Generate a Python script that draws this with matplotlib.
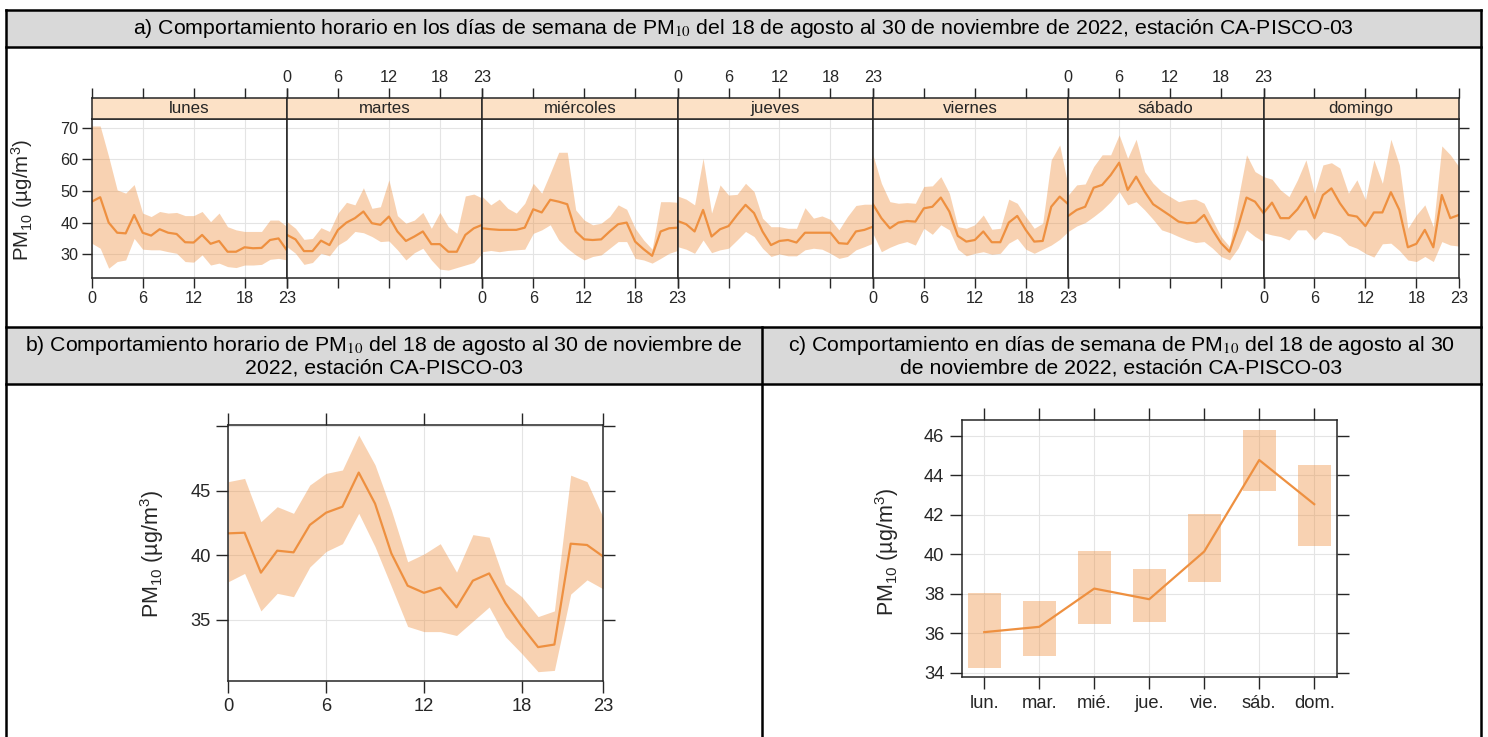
import matplotlib
matplotlib.use('Agg')
import matplotlib.pyplot as plt
from matplotlib.patches import Rectangle
from matplotlib.lines import Line2D

plt.rcParams['font.family'] = ['Liberation Sans', 'DejaVu Sans']
plt.rcParams['mathtext.fontset'] = 'custom'
plt.rcParams['mathtext.rm'] = 'Liberation Sans'
plt.rcParams['mathtext.it'] = 'Liberation Sans:italic'
plt.rcParams['mathtext.bf'] = 'Liberation Sans:bold'

# ---------------- data ----------------
hours = list(range(24))
days = ['lunes', 'martes', 'miércoles', 'jueves', 'viernes', 'sábado', 'domingo']

mean_lunes = [46.6, 48.0, 40.0, 36.8, 36.6, 42.4, 36.8, 35.9, 37.9, 36.8, 36.4, 33.8, 33.7, 36.1, 33.3, 34.2, 30.8, 30.8, 32.2, 31.9, 32.0, 34.5, 35.0, 31.2]
low_lunes = [33.5, 31.9, 25.6, 27.7, 28.2, 35.0, 31.6, 31.4, 31.4, 30.8, 30.3, 27.7, 27.5, 29.8, 26.6, 27.2, 26.1, 25.8, 26.6, 26.6, 26.8, 28.4, 28.7, 28.2]
high_lunes = [70.5, 70.5, 60.8, 50.3, 49.3, 52.0, 43.0, 41.9, 43.5, 43.0, 43.2, 42.2, 42.2, 43.5, 40.3, 43.0, 38.7, 37.7, 37.2, 37.2, 37.2, 40.8, 40.8, 38.7]

mean_martes = [36.1, 34.7, 31.0, 31.0, 34.3, 32.9, 37.7, 40.0, 41.4, 43.5, 39.8, 39.3, 41.9, 37.2, 34.2, 35.6, 37.2, 33.2, 33.2, 30.8, 30.8, 36.1, 38.2, 39.3]
low_martes = [32.4, 30.3, 26.8, 27.4, 30.3, 29.5, 32.9, 34.5, 37.2, 36.8, 35.6, 34.0, 34.2, 31.4, 28.2, 30.5, 31.9, 28.2, 25.3, 25.0, 25.8, 26.6, 27.4, 30.3]
high_martes = [40.3, 38.2, 34.7, 35.0, 38.4, 37.2, 43.0, 46.4, 45.6, 51.0, 44.5, 45.0, 53.5, 42.2, 39.8, 40.8, 43.2, 38.2, 43.2, 38.7, 36.6, 48.4, 49.0, 47.7]

mean_miercoles = [38.2, 37.9, 37.7, 37.7, 37.7, 38.4, 44.2, 43.2, 47.2, 46.6, 45.8, 37.2, 34.7, 34.5, 34.7, 37.2, 39.5, 40.0, 34.0, 31.6, 29.5, 37.2, 38.2, 38.4]
low_miercoles = [30.8, 31.2, 30.8, 31.2, 31.4, 31.6, 36.6, 37.7, 39.3, 34.5, 31.9, 29.8, 28.2, 29.3, 29.8, 31.9, 34.0, 34.0, 28.7, 28.2, 27.2, 28.7, 30.3, 31.2]
high_miercoles = [48.2, 45.6, 47.4, 44.5, 43.0, 46.1, 52.4, 49.3, 55.6, 62.2, 62.2, 44.0, 40.8, 39.3, 39.8, 41.9, 45.6, 44.2, 38.2, 34.5, 31.6, 46.6, 46.6, 46.4]

mean_jueves = [40.5, 39.5, 37.2, 44.0, 35.6, 37.9, 38.9, 42.4, 45.6, 43.0, 37.2, 32.9, 34.2, 34.5, 33.7, 36.8, 36.8, 36.8, 36.8, 33.5, 33.3, 37.2, 37.7, 38.7]
low_jueves = [32.4, 31.6, 30.3, 34.5, 30.5, 31.4, 31.9, 34.5, 37.2, 35.6, 31.9, 29.3, 30.1, 29.5, 29.5, 31.4, 31.9, 31.6, 30.3, 28.7, 29.3, 31.4, 32.4, 33.5]
high_jueves = [48.4, 47.4, 45.6, 60.3, 43.0, 51.9, 48.7, 48.9, 52.4, 49.8, 41.4, 38.7, 38.7, 38.2, 38.2, 44.7, 41.4, 42.1, 41.0, 37.7, 41.9, 45.4, 45.8, 45.8]

mean_viernes = [45.8, 41.4, 38.2, 40.0, 40.5, 40.3, 44.5, 45.0, 47.9, 43.5, 35.8, 34.0, 34.5, 37.2, 33.8, 33.8, 40.0, 42.1, 37.7, 34.0, 34.2, 45.0, 48.2, 45.8]
low_viernes = [36.6, 30.8, 32.2, 33.3, 34.0, 32.9, 38.2, 36.3, 39.3, 37.7, 31.6, 29.5, 30.3, 30.8, 30.0, 30.3, 33.5, 35.0, 31.6, 30.3, 31.6, 32.9, 34.7, 37.2]
high_viernes = [61.4, 52.4, 46.6, 46.1, 46.3, 46.1, 51.4, 51.6, 54.5, 49.3, 38.7, 38.2, 39.3, 42.4, 37.9, 38.2, 47.4, 46.1, 41.9, 38.2, 39.8, 59.8, 64.5, 51.4]

mean_sabado = [42.1, 44.0, 45.0, 51.0, 51.9, 55.0, 58.9, 50.3, 54.5, 49.8, 45.8, 44.0, 42.2, 40.3, 39.8, 40.0, 42.4, 37.7, 33.5, 30.8, 38.7, 47.9, 46.6, 43.0]
low_sabado = [37.2, 38.9, 40.0, 41.9, 44.0, 46.6, 49.8, 45.6, 46.6, 44.0, 41.0, 37.7, 36.8, 35.6, 34.5, 33.7, 34.0, 31.9, 29.3, 28.2, 31.9, 37.7, 35.6, 34.0]
high_sabado = [48.7, 51.9, 52.2, 57.7, 61.4, 61.4, 67.7, 60.3, 66.3, 56.1, 52.4, 49.8, 48.2, 46.6, 47.2, 47.4, 46.1, 40.8, 35.6, 32.4, 47.2, 61.4, 56.1, 54.5]

mean_domingo = [43.0, 46.3, 41.4, 41.4, 44.2, 48.2, 41.4, 48.7, 50.8, 46.1, 42.4, 41.9, 38.9, 43.2, 43.2, 49.6, 44.0, 32.2, 33.3, 37.7, 32.2, 48.7, 41.4, 42.4]
low_domingo = [36.8, 36.1, 35.6, 34.5, 37.7, 37.7, 34.5, 37.2, 36.6, 35.6, 32.9, 31.9, 30.3, 29.1, 33.3, 33.5, 31.2, 28.2, 27.7, 29.3, 27.7, 34.0, 32.9, 32.6]
high_domingo = [54.5, 53.7, 50.3, 48.2, 53.5, 59.8, 49.3, 58.2, 58.9, 57.2, 49.3, 53.5, 47.2, 59.8, 52.4, 66.3, 58.2, 38.2, 42.4, 45.6, 38.7, 64.2, 61.4, 57.7]

# panel b: hourly
hour_mean = [41.7, 41.75, 38.66, 40.36, 40.23, 42.35, 43.3, 43.76, 46.4, 44.0, 40.15, 37.65, 37.1, 37.5, 35.98, 38.04, 38.6, 36.3, 34.5, 32.9, 33.1, 40.9, 40.8, 39.9]
hour_low = [37.96, 38.6, 35.7, 37.06, 36.8, 39.1, 40.3, 40.9, 43.25, 40.67, 37.6, 34.5, 34.1, 34.1, 33.8, 34.9, 36.0, 33.7, 32.4, 31.0, 31.1, 37.0, 38.1, 37.4]
hour_high = [45.7, 45.95, 42.6, 43.76, 43.25, 45.44, 46.34, 46.6, 49.3, 47.0, 43.5, 39.5, 40.1, 40.9, 38.7, 41.6, 41.4, 37.8, 36.8, 35.26, 35.7, 46.2, 45.7, 42.9]

# panel c: weekday
wd_labels = ['lun.', 'mar.', 'mié.', 'jue.', 'vie.', 'sáb.', 'dom.']
wd_mean = [36.05, 36.32, 38.26, 37.72, 40.14, 44.78, 42.54]
wd_low = [34.25, 34.86, 36.47, 36.58, 38.58, 43.21, 40.42]
wd_high = [38.02, 37.65, 40.17, 39.26, 42.05, 46.3, 44.53]

# ---------------- style ----------------
LINE = '#EE9040'
BAND_ALPHA = 0.4
STRIP = '#FCE1C6'
FRAME = '#262626'
GRID = '#E4E4E4'
TXT = '#262626'
HEAD = '#D9D9D9'

W, H = 1488, 737
fig = plt.figure(figsize=(W / 100, H / 100), dpi=100)


def fbox(x0, y0, x1, y1):
    return [x0 / W, 1 - y1 / H, (x1 - x0) / W, (y1 - y0) / H]


def fx(x):
    return x / W


def fy(y):
    return 1 - y / H


# ---------------- table ----------------
for (x0, y0, x1, y1) in [(6, 10, 1481, 47), (6, 327, 1481, 384)]:
    fig.add_artist(Rectangle((fx(x0), fy(y1)), (x1 - x0) / W, (y1 - y0) / H,
                             transform=fig.transFigure, facecolor=HEAD,
                             edgecolor='none', zorder=0))
hlines = [(10, 6, 1481), (47, 6, 1481), (327, 6, 1481), (384, 6, 1481)]
vlines = [(6, 10, 737), (1481, 10, 737), (762, 327, 737)]
for y, x0, x1 in hlines:
    fig.add_artist(Line2D([fx(x0), fx(x1)], [fy(y), fy(y)], transform=fig.transFigure,
                          color='black', lw=1.8, zorder=5))
for x, y0, y1 in vlines:
    fig.add_artist(Line2D([fx(x), fx(x)], [fy(y0), fy(y1)], transform=fig.transFigure,
                          color='black', lw=1.8, zorder=5))

HFS = 15.3
fig.text(fx(743.5), fy(28.5),
         'a) Comportamiento horario en los días de semana de PM$_{10}$ del 18 de agosto al 30 de noviembre de 2022, estación CA-PISCO-03',
         ha='center', va='center', fontsize=HFS, math_fontfamily='stix')
fig.text(fx(384), fy(356),
         'b) Comportamiento horario de PM$_{10}$ del 18 de agosto al 30 de noviembre de\n2022, estación CA-PISCO-03',
         ha='center', va='center', fontsize=HFS, math_fontfamily='stix', linespacing=1.12)
fig.text(fx(1121.5), fy(356),
         'c) Comportamiento en días de semana de PM$_{10}$ del 18 de agosto al 30\nde noviembre de 2022, estación CA-PISCO-03',
         ha='center', va='center', fontsize=HFS, math_fontfamily='stix', linespacing=1.12)

YLAB = 'PM$_{10}$ (µg/m$^{3}$)'


def style_spines(ax):
    for s in ax.spines.values():
        s.set_color(FRAME)
        s.set_linewidth(1.1)


# ---------------- panel a ----------------
day_means = [mean_lunes, mean_martes, mean_miercoles, mean_jueves, mean_viernes, mean_sabado, mean_domingo]
day_lows = [low_lunes, low_martes, low_miercoles, low_jueves, low_viernes, low_sabado, low_domingo]
day_highs = [high_lunes, high_martes, high_miercoles, high_jueves, high_viernes, high_sabado, high_domingo]

xa0, dw = 91.7, 195.3
ya0, ya1 = 119.0, 277.7
ys0 = 98.3
hticks = [0, 6, 12, 18, 23]
AFS = 11.7
for i, name in enumerate(days):
    x0 = xa0 + i * dw
    x1 = x0 + dw
    ax = fig.add_axes(fbox(x0, ya0, x1, ya1))
    ax.fill_between(hours, day_lows[i], day_highs[i], color=LINE, alpha=BAND_ALPHA, lw=0)
    ax.plot(hours, day_means[i], color=LINE, lw=1.6)
    ax.set_xlim(0, 23)
    ax.set_ylim(22.6, 72.7)
    ax.set_xticks(hticks)
    ax.set_yticks([30, 40, 50, 60, 70])
    ax.grid(True, color=GRID, lw=0.8)
    ax.set_axisbelow(True)
    style_spines(ax)
    ax.tick_params(axis='x', direction='out', length=7, width=1, color=FRAME,
                   labelsize=AFS, labelcolor=TXT, top=False, bottom=True,
                   labelbottom=(i % 2 == 0), pad=2.5)
    ax.tick_params(axis='y', direction='out', length=7, width=1, color=FRAME,
                   labelsize=AFS, labelcolor=TXT, left=(i == 0), labelleft=(i == 0),
                   right=(i == 6), labelright=False, pad=2.5)
    # strip
    sax = fig.add_axes(fbox(x0, ys0, x1, ya0))
    sax.set_facecolor(STRIP)
    sax.set_xlim(0, 23)
    sax.set_ylim(0, 1)
    sax.set_xticks(hticks)
    sax.set_yticks([])
    style_spines(sax)
    sax.tick_params(axis='x', direction='out', length=7, width=1, color=FRAME,
                    labelsize=AFS, labelcolor=TXT, top=True, bottom=False,
                    labeltop=(i % 2 == 1), labelbottom=False, pad=2.5)
    sax.text(0.5, 0.5, name, transform=sax.transAxes, ha='center', va='center',
             fontsize=12.2, color=TXT)

fig.text(fx(22), fy(200), YLAB, rotation=90, ha='center', va='center', fontsize=14.8, color=TXT)

# ---------------- panel b ----------------
BFS = 13.2
axb = fig.add_axes(fbox(228.3, 425, 603.3, 681))
axb.fill_between(hours, hour_low, hour_high, color=LINE, alpha=BAND_ALPHA, lw=0)
axb.plot(hours, hour_mean, color=LINE, lw=1.6)
axb.set_xlim(0, 23)
axb.set_ylim(30.28, 50.08)
axb.set_xticks(hticks)
axb.set_yticks([35, 40, 45, 50])
axb.set_yticklabels(['35', '40', '45', ''])
axb.grid(True, color=GRID, lw=0.8)
axb.set_axisbelow(True)
style_spines(axb)
axb.tick_params(axis='both', direction='out', length=8.5, width=1, color=FRAME,
                labelsize=BFS, labelcolor=TXT, top=True, right=True, pad=4)
fig.text(fx(152), fy(554), YLAB, rotation=90, ha='center', va='center', fontsize=15.5, color=TXT)

# ---------------- panel c ----------------
axc = fig.add_axes(fbox(961.7, 420, 1337.3, 677.3))
pos = list(range(1, 8))
axc.bar(pos, [h - l for h, l in zip(wd_high, wd_low)], bottom=wd_low, width=0.6,
        color=LINE, alpha=BAND_ALPHA, lw=0)
axc.plot(pos, wd_mean, color=LINE, lw=1.6)
axc.set_xlim(0.59, 7.42)
axc.set_ylim(33.76, 46.81)
axc.set_xticks(pos)
axc.set_xticklabels(wd_labels)
axc.set_yticks([34, 36, 38, 40, 42, 44, 46])
axc.grid(True, color=GRID, lw=0.8)
axc.set_axisbelow(True)
style_spines(axc)
axc.tick_params(axis='both', direction='out', length=8.5, width=1, color=FRAME,
                labelsize=BFS, labelcolor=TXT, top=True, right=True, pad=4)
fig.text(fx(887), fy(552), YLAB, rotation=90, ha='center', va='center', fontsize=15.5, color=TXT)

fig.savefig('out.png', dpi=100)
